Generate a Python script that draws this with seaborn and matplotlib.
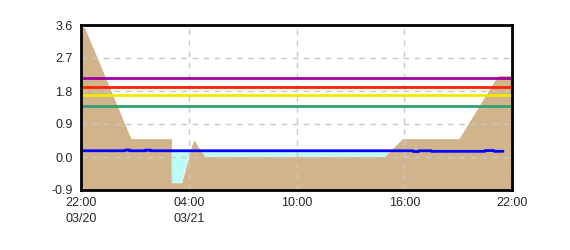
import numpy as np
import pandas as pd
import matplotlib
matplotlib.use("Agg")
import matplotlib.pyplot as plt
import seaborn as sns

# hours since 03/20 22:00
terrain_t = [0.0, 0.2, 2.78, 5.04, 5.05, 5.6, 6.0, 6.15, 6.3, 6.5, 6.9, 16.9, 17.9, 21.05, 23.2, 24.0]
terrain_v = [3.55, 3.53, 0.50, 0.50, -0.70, -0.70, 0.00, 0.30, 0.46, 0.30, 0.02, 0.02, 0.50, 0.50, 2.22, 2.22]

water_t = [0.0, 2.45, 2.46, 2.7, 2.71, 3.6, 3.61, 3.85, 3.86, 18.5, 18.51, 18.8, 18.81, 19.5, 19.51, 22.5, 22.51, 23.0, 23.01, 23.5]
water_v = [0.17, 0.17, 0.19, 0.19, 0.17, 0.17, 0.19, 0.19, 0.17, 0.17, 0.15, 0.15, 0.17, 0.17, 0.155, 0.155, 0.175, 0.175, 0.155, 0.155]

levels = [2.16, 1.91, 1.70, 1.39]
level_colors = ["#A000A0", "#FF2000", "#F0E800", "#30A070"]

x_ticks = [0, 6, 12, 18, 24]
x_labels = ["22:00\n03/20", "04:00\n03/21", "10:00", "16:00", "22:00"]
y_ticks = [-0.9, 0.0, 0.9, 1.8, 2.7, 3.6]
y_labels = ["-0.9", "0.0", "0.9", "1.8", "2.7", "3.6"]

sns.set_style("white")
plt.rcParams['font.family'] = ['Liberation Sans', 'DejaVu Sans']

fig = plt.figure(figsize=(5.7, 2.5), dpi=100)
ax = fig.add_axes([81/570, 1-190/250, (512-81)/570, (190-25)/250])

# fine grid for fills
tt = np.linspace(0, 24, 2401)
ter = np.interp(tt, terrain_t, terrain_v)
wat = np.interp(tt, water_t, water_v)
mask = (tt <= water_t[-1]) & (ter < wat)

ax.fill_between(tt, -0.9, ter, color="#D2B48C", lw=0, zorder=1)
ax.fill_between(tt, ter, wat, where=mask, color="#BEFAF5", lw=0, zorder=1, interpolate=True)

ax.grid(True, color="#C8C8C8", linestyle=(0, (4, 4)), linewidth=1)
ax.set_axisbelow(False)
for gl in ax.get_xgridlines() + ax.get_ygridlines():
    gl.set_zorder(2)

for lv, c in zip(levels, level_colors):
    ax.axhline(lv, color=c, lw=2, zorder=3)

df = pd.DataFrame({"t": water_t, "v": water_v})
sns.lineplot(data=df, x="t", y="v", color="#0000FF", lw=2, ax=ax, zorder=4)

ax.set_xlim(0, 24)
ax.set_ylim(-0.9, 3.6)
ax.set_xticks(x_ticks)
ax.set_xticklabels(x_labels, fontsize=9, linespacing=1.45)
ax.set_yticks(y_ticks)
ax.set_yticklabels(y_labels, fontsize=9)
ax.set_xlabel("")
ax.set_ylabel("")
ax.tick_params(axis="y", direction="in", length=5, width=2, color="black", pad=6)
ax.tick_params(axis="x", length=0, pad=5)
for s in ax.spines.values():
    s.set_linewidth(2)
    s.set_color("black")
    s.set_zorder(5)

fig.savefig("out.png", dpi=100)
